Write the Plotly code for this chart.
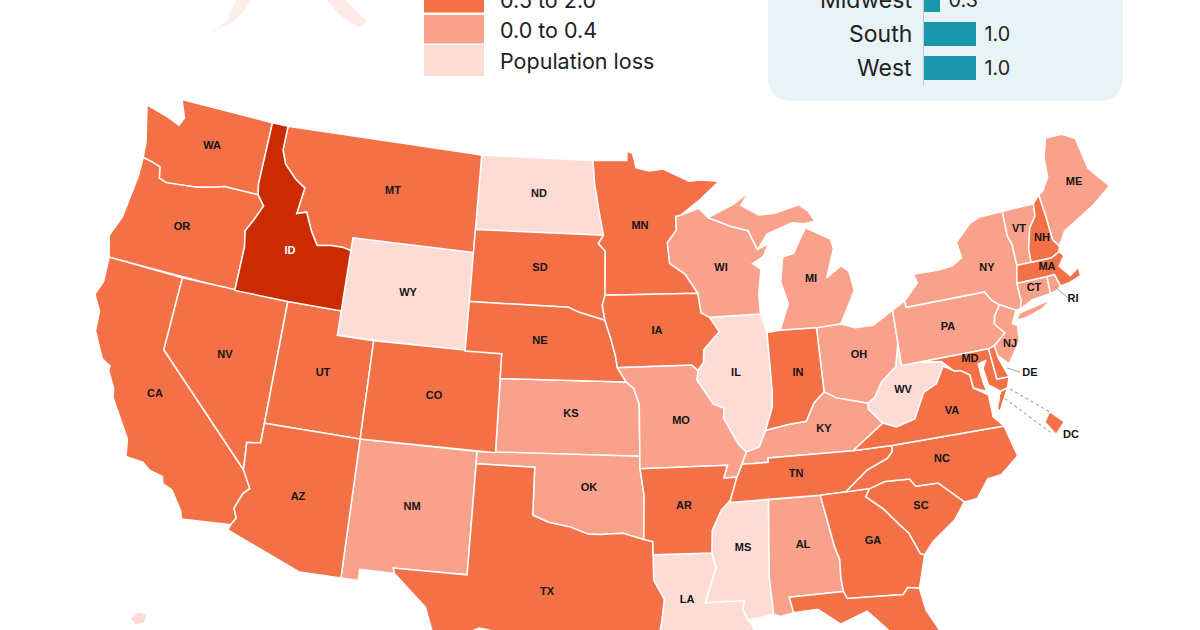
import numpy as np
import plotly.graph_objects as go

# legend bins, lowest first
LOSS_STATES = ["WY", "ND", "LA", "IL", "MS", "WV"]
LOW_STATES = ["NM", "KS", "OK", "MO", "WI", "MI", "OH", "KY", "AL", "PA", "NY", "NJ", "CT", "RI", "VT", "ME"]
MID_STATES = ["WA", "OR", "CA", "NV", "MT", "UT", "CO", "AZ", "SD", "NE", "TX", "MN", "IA", "AR", "IN", "TN", "GA", "FL", "SC", "NC", "VA", "MD", "DE", "MA", "NH"]
HIGH_STATES = ["ID"]

LOSS_COLOR = "#fddcd5"
LOW_COLOR = "#f9a18a"
MID_COLOR = "#f47148"
HIGH_COLOR = "#cc2a00"

LEGEND_LABELS = ["0.5 to 2.0", "0.0 to 0.4", "Population loss"]

REGIONS = ["Midwest", "South", "West"]
REGION_VALUES = [0.3, 1.0, 1.0]

# state outlines, lon/lat
WA = [(-124.7,48.38),(-123.3,48.15),(-122.5,47.95),(-122.3,48.3),(-122.75,49),(-117.03,49),(-117.04,46.42),(-116.92,45.99),(-118.98,46),(-119.3,45.93),(-120.5,45.7),(-121.2,45.65),(-122.3,45.55),(-122.75,45.65),(-122.9,46.1),(-123.4,46.2),(-124,46.27),(-124.1,46.9)]
OR = [(-124,46.27),(-123.4,46.2),(-122.9,46.1),(-122.75,45.65),(-122.3,45.55),(-121.2,45.65),(-120.5,45.7),(-119.3,45.93),(-118.98,46),(-116.92,45.99),(-116.47,45.6),(-116.85,44.95),(-117.2,44.45),(-117.03,43.8),(-117.03,42),(-124.2,42),(-124.55,42.84),(-124.15,43.7),(-124.05,44.7),(-123.95,45.5)]
CA = [(-124.2,42),(-120,42),(-120,39),(-114.63,35),(-114.14,34.3),(-114.43,34.05),(-114.72,33.4),(-114.52,33.03),(-114.72,32.72),(-117.12,32.53),(-117.25,32.85),(-117.9,33.6),(-118.4,33.75),(-118.5,34.03),(-119.2,34.15),(-119.6,34.4),(-120.5,34.45),(-120.65,35.15),(-121.9,36.6),(-122,36.96),(-122.5,37.6),(-122.5,37.8),(-123,38),(-123.75,39),(-123.85,39.8),(-124.35,40.4),(-124.1,41)]
NV = [(-120,42),(-114.04,42),(-114.04,36.2),(-114.74,36.1),(-114.63,35),(-120,39)]
ID = [(-117.03,49),(-116.05,49),(-116.05,48),(-115.72,47.45),(-114.95,46.93),(-114.32,46.65),(-114.5,45.57),(-113.95,45.7),(-113.45,44.95),(-113,44.45),(-112.2,44.55),(-111.5,44.55),(-111.05,44.47),(-111.05,42),(-114.04,42),(-117.03,42),(-117.03,43.8),(-117.2,44.45),(-116.85,44.95),(-116.47,45.6),(-116.92,45.99),(-117.04,46.42)]
MT = [(-116.05,49),(-104.05,49),(-104.05,45),(-111.05,45),(-111.05,44.47),(-111.5,44.55),(-112.2,44.55),(-113,44.45),(-113.45,44.95),(-113.95,45.7),(-114.5,45.57),(-114.32,46.65),(-114.95,46.93),(-115.72,47.45),(-116.05,48)]
WY = [(-111.05,45),(-104.05,45),(-104.05,41),(-111.05,41)]
UT = [(-114.04,42),(-111.05,42),(-111.05,41),(-109.05,41),(-109.05,37),(-114.04,37)]
CO = [(-109.05,41),(-102.05,41),(-102.05,37),(-109.05,37)]
AZ = [(-114.04,37),(-109.05,37),(-109.05,31.33),(-111.07,31.33),(-114.81,32.49),(-114.72,32.72),(-114.52,33.03),(-114.72,33.4),(-114.43,34.05),(-114.14,34.3),(-114.63,35),(-114.74,36.1),(-114.04,36.2)]
NM = [(-109.05,37),(-103,37),(-103.04,32),(-106.62,32),(-106.53,31.78),(-108.21,31.78),(-108.21,31.33),(-109.05,31.33)]
ND = [(-104.05,49),(-97.23,49),(-97.1,48),(-96.85,47),(-96.56,45.94),(-104.05,45.94)]
SD = [(-104.05,45.94),(-96.56,45.94),(-96.85,45.6),(-96.45,45.3),(-96.45,43.5),(-96.6,43.1),(-96.45,42.49),(-97.9,42.8),(-98.5,43),(-104.05,43)]
NE = [(-104.05,43),(-98.5,43),(-97.9,42.8),(-96.45,42.49),(-96.1,41.7),(-95.85,41),(-95.77,40.58),(-95.31,40),(-102.05,40),(-102.05,41),(-104.05,41)]
KS = [(-102.05,40),(-95.31,40),(-94.9,39.75),(-94.61,39.1),(-94.62,37),(-102.05,37)]
OK = [(-103,37),(-94.62,37),(-94.62,36.5),(-94.43,35.4),(-94.48,33.64),(-95.5,33.9),(-96.6,33.85),(-97.2,33.85),(-98.1,34.13),(-99.2,34.3),(-100,34.56),(-100,36.5),(-103,36.5)]
TX = [(-103,36.5),(-100,36.5),(-100,34.56),(-99.2,34.3),(-98.1,34.13),(-97.2,33.85),(-96.6,33.85),(-95.5,33.9),(-94.48,33.64),(-94.04,33.55),(-94.04,33.02),(-94.04,31.99),(-93.55,31.2),(-93.7,30.3),(-93.84,29.7),(-94.7,29.35),(-95.3,28.9),(-96.4,28.35),(-97.2,27.6),(-97.4,26.9),(-97.15,25.96),(-97.6,25.9),(-99.1,26.4),(-99.5,27.5),(-100.3,28.3),(-100.7,29.1),(-101.4,29.77),(-102.3,29.88),(-102.7,29.7),(-103.15,28.97),(-104.5,29.65),(-104.9,30.55),(-106.53,31.78),(-106.62,32),(-103.04,32)]
MN = [(-97.23,49),(-95.15,49),(-95.15,49.38),(-94.8,49.3),(-94.6,48.7),(-93.8,48.55),(-92.95,48.62),(-91.4,48.07),(-90.75,48.1),(-89.6,48),(-90.8,47.3),(-92,46.7),(-92.3,46.66),(-92.3,46.1),(-92.85,45.6),(-92.75,44.75),(-91.9,44.3),(-91.22,43.5),(-96.45,43.5),(-96.45,45.3),(-96.85,45.6),(-96.56,45.94),(-96.85,47),(-97.1,48)]
IA = [(-96.45,43.5),(-91.22,43.5),(-91.1,42.7),(-90.64,42.5),(-90.15,41.9),(-91.05,41.2),(-91.1,40.7),(-91.42,40.38),(-91.73,40.61),(-95.77,40.58),(-95.85,41),(-96.1,41.7),(-96.45,42.49),(-96.6,43.1)]
MO = [(-95.77,40.58),(-91.73,40.61),(-91.42,40.38),(-91.5,40),(-90.7,39),(-90.15,38.8),(-90.2,38.4),(-89.5,37.3),(-89.13,36.98),(-89.4,36.5),(-89.7,36),(-90.37,36),(-90.15,36.5),(-94.62,36.5),(-94.62,37),(-94.61,39.1),(-94.9,39.75),(-95.31,40)]
AR = [(-94.62,36.5),(-90.15,36.5),(-90.37,36),(-89.7,36),(-90.1,35.1),(-90.6,34.7),(-91.1,33.9),(-91.17,33),(-94.04,33.02),(-94.04,33.55),(-94.48,33.64),(-94.43,35.4)]
LA = [(-94.04,33.02),(-91.17,33),(-91,32.4),(-91.6,31),(-89.73,31),(-89.85,30.65),(-89.6,30.2),(-89.4,29.9),(-89.4,29.2),(-90.1,29.15),(-91.3,29.3),(-92.3,29.55),(-93.84,29.7),(-93.7,30.3),(-93.55,31.2),(-94.04,31.99)]
WI = [(-92.3,46.66),(-92,46.7),(-90.9,46.95),(-90.4,46.55),(-89.1,46.13),(-88.1,45.9),(-87.8,45.35),(-87.65,45.1),(-87,45.3),(-87.35,44.8),(-88,44.55),(-87.55,44.3),(-87.8,43.3),(-87.8,42.49),(-90.64,42.5),(-91.1,42.7),(-91.22,43.5),(-91.9,44.3),(-92.75,44.75),(-92.85,45.6),(-92.3,46.1)]
IL = [(-90.64,42.5),(-87.8,42.49),(-87.53,41.72),(-87.53,39.35),(-87.6,38.7),(-88.05,37.8),(-88.45,37.15),(-89.13,36.98),(-89.5,37.3),(-90.2,38.4),(-90.15,38.8),(-90.7,39),(-91.5,40),(-91.42,40.38),(-91.1,40.7),(-91.05,41.2),(-90.15,41.9)]
IN = [(-87.53,41.72),(-86.8,41.76),(-84.8,41.7),(-84.8,39.1),(-85.4,38.7),(-85.9,38),(-86.8,37.95),(-88.05,37.8),(-87.6,38.7),(-87.53,39.35)]
OH = [(-84.8,41.7),(-83.45,41.73),(-82.7,41.5),(-81.7,41.5),(-80.52,41.98),(-80.52,40.64),(-80.85,39.7),(-81.7,39.2),(-82.2,38.6),(-82.6,38.42),(-83.3,38.6),(-84.2,38.8),(-84.8,39.1)]
MI_LOWER = [(-86.8,41.76),(-84.8,41.7),(-83.45,41.73),(-83.15,42.1),(-82.45,43),(-82.6,43.8),(-83,44.07),(-83.9,43.65),(-83.3,44.8),(-83.4,45.2),(-84.75,45.78),(-85.1,45.4),(-85.6,44.8),(-86.25,44.7),(-86.5,43.7),(-86.2,42.8)]
MI_UPPER = [(-90.4,46.55),(-89.1,46.13),(-88.1,45.9),(-87.8,45.35),(-87.65,45.1),(-87,45.7),(-85.5,46.05),(-84.8,45.95),(-84.15,46),(-84.5,46.45),(-85,46.75),(-86.5,46.5),(-87.4,46.5),(-88.4,46.95),(-87.9,47.45),(-88.9,47)]
KY = [(-89.4,36.5),(-88.05,36.5),(-88.05,36.68),(-83.68,36.6),(-81.97,37.54),(-82.6,38.17),(-82.6,38.42),(-83.3,38.6),(-84.2,38.8),(-84.8,39.1),(-85.4,38.7),(-85.9,38),(-86.8,37.95),(-88.05,37.8),(-88.45,37.15),(-89.13,36.98)]
TN = [(-90.1,35),(-90.1,35.1),(-89.7,36),(-89.4,36.5),(-88.05,36.5),(-88.05,36.68),(-83.68,36.6),(-81.68,36.59),(-81.7,36.35),(-82,36.1),(-83.1,35.75),(-84.32,34.99),(-85.6,34.98),(-88.2,35)]
MS = [(-90.1,35),(-88.2,35),(-88.47,31.9),(-88.4,30.35),(-89.6,30.2),(-89.85,30.65),(-89.73,31),(-91.6,31),(-91,32.4),(-91.17,33),(-91.1,33.9),(-90.6,34.7),(-90.1,35.1)]
AL = [(-88.2,35),(-85.6,34.98),(-85.18,32.87),(-85,32.3),(-85.05,31.55),(-85,31),(-87.6,31),(-87.45,30.35),(-88.05,30.25),(-88.4,30.35),(-88.47,31.9)]
GA = [(-85.6,34.98),(-84.32,34.99),(-83.1,35),(-83.35,34.7),(-82.55,34.1),(-81.9,33.4),(-81.5,33),(-81.1,32.1),(-80.9,32.03),(-81.4,30.72),(-81.95,30.82),(-82.2,30.57),(-84.86,30.7),(-85,31),(-85.05,31.55),(-85,32.3),(-85.18,32.87)]
FL = [(-87.6,31),(-85,31),(-84.86,30.7),(-82.2,30.57),(-81.95,30.82),(-81.4,30.72),(-81.25,29.8),(-80.5,28.4),(-80.05,26.9),(-80.15,25.7),(-80.5,25.2),(-81.1,25.15),(-81.8,26.1),(-82.2,26.9),(-82.75,27.8),(-82.65,28.7),(-83.4,29.5),(-84,30.1),(-85.3,29.7),(-86.3,30.4),(-87.45,30.35)]
SC = [(-83.1,35),(-82.3,35.2),(-81.05,35.15),(-80.8,34.82),(-79.67,34.8),(-78.55,33.86),(-79.2,33.2),(-80.4,32.5),(-80.9,32.03),(-81.1,32.1),(-81.5,33),(-81.9,33.4),(-82.55,34.1),(-83.35,34.7)]
NC = [(-84.32,34.99),(-83.1,35),(-82.3,35.2),(-81.05,35.15),(-80.8,34.82),(-79.67,34.8),(-78.55,33.86),(-77.9,33.9),(-77.2,34.6),(-76.5,34.65),(-75.5,35.25),(-75.85,36.55),(-81.68,36.59),(-81.7,36.35),(-82,36.1),(-83.1,35.75)]
VA = [(-83.68,36.6),(-81.68,36.59),(-75.85,36.55),(-76.3,37),(-76.3,37.9),(-77,38.3),(-77.05,38.85),(-77.5,39.1),(-77.83,39.13),(-78.35,39.4),(-78.87,38.75),(-79.6,38.5),(-80.3,37.5),(-81.3,37.3),(-81.97,37.54)]
VA_SHORE = [(-75.65,37.95),(-75.25,38.03),(-75.9,37.15),(-76,37.3)]
WV = [(-82.6,38.17),(-81.97,37.54),(-81.3,37.3),(-80.3,37.5),(-79.6,38.5),(-78.87,38.75),(-78.35,39.4),(-77.83,39.13),(-78.4,39.6),(-79.48,39.72),(-80.52,39.72),(-80.52,40.64),(-80.85,39.7),(-81.7,39.2),(-82.2,38.6),(-82.6,38.42)]
MD = [(-79.48,39.72),(-75.79,39.72),(-75.7,38.46),(-75.05,38.45),(-75.25,38.03),(-75.65,37.95),(-76.2,38.3),(-76.3,39),(-76.05,39.3),(-76.5,39.2),(-76.45,38.5),(-76.35,38.05),(-77,38.3),(-77.05,38.85),(-77.5,39.1),(-77.83,39.13),(-78.4,39.6)]
DE = [(-75.79,39.72),(-75.45,39.8),(-75.4,39.3),(-75.05,38.45),(-75.7,38.46)]
PA = [(-80.52,41.98),(-79.76,42.27),(-79.76,42),(-75.35,42),(-75.05,41.6),(-74.7,41.36),(-75.1,40.95),(-75.2,40.65),(-74.75,40.2),(-75.45,39.8),(-75.79,39.72),(-80.52,39.72)]
NY = [(-79.76,42.27),(-79.76,42),(-75.35,42),(-75.05,41.6),(-74.7,41.36),(-73.9,41),(-73.65,41),(-73.5,41.3),(-73.5,42.05),(-73.27,42.75),(-73.25,43.6),(-73.4,44),(-73.35,45.01),(-74.7,45),(-75.3,44.85),(-76.3,44.2),(-76.2,43.55),(-76.8,43.3),(-77.6,43.25),(-79.05,43.27),(-78.9,42.9)]
NY_ISLAND = [(-74,40.6),(-73.75,40.85),(-72.6,41),(-71.9,41.07),(-72.5,40.8),(-73.5,40.6)]
NJ = [(-74.7,41.36),(-73.9,41),(-74.25,40.5),(-74,40.4),(-74.1,39.75),(-74.9,38.95),(-75.55,39.5),(-75.45,39.8),(-74.75,40.2),(-75.2,40.65),(-75.1,40.95)]
CT = [(-73.5,42.05),(-71.8,42.02),(-71.85,41.32),(-72.9,41.25),(-73.65,41),(-73.5,41.3)]
RI = [(-71.8,42.02),(-71.38,42.02),(-71.2,41.5),(-71.5,41.37),(-71.85,41.32)]
MA = [(-73.5,42.05),(-73.27,42.75),(-72.46,42.73),(-71.3,42.7),(-70.8,42.87),(-70.6,42.65),(-71,42.3),(-70.55,41.8),(-70,42.05),(-70,41.7),(-70.65,41.55),(-71.2,41.5),(-71.38,42.02),(-71.8,42.02)]
VT = [(-73.35,45.01),(-71.5,45.01),(-71.6,44.5),(-72.05,44.1),(-72.4,43.3),(-72.46,42.73),(-73.27,42.75),(-73.25,43.6),(-73.4,44)]
NH = [(-71.5,45.01),(-71.08,45.3),(-71,44.3),(-70.98,43.4),(-70.7,43.07),(-70.8,42.87),(-71.3,42.7),(-72.46,42.73),(-72.4,43.3),(-72.05,44.1),(-71.6,44.5)]
ME = [(-71.08,45.3),(-70.8,45.4),(-70.3,45.9),(-70.2,46.7),(-69.8,47.46),(-68.8,47.42),(-68.1,47.1),(-67.9,45.8),(-67.45,45.3),(-67,44.85),(-68.2,44.3),(-69.1,44),(-70.2,43.6),(-70.7,43.07),(-70.98,43.4),(-71,44.3)]

# labels
LABEL_TEXT = ["WA","OR","CA","NV","ID","MT","WY","UT","CO","AZ","NM","ND","SD","NE","KS","OK","TX","MN","IA","MO","AR","LA","WI","IL","IN","MI","OH","KY","TN","MS","AL","GA","SC","NC","VA","WV","PA","NY","NJ","MD","CT","MA","VT","NH","ME","RI","DE","DC"]
LABEL_X = [212,182,155,225,290,393,408,323,434,298,412,539,540,540,571,589,547,640,657,681,684,687,721,736,798,811,859,824,796,743,803,873,921,942,952,903,948,987,1010,970,1034,1047,1019,1042,1074,1073,1030,1071]
LABEL_Y = [146,227,394,355,251,191,293,373,396,497,507,194,268,341,414,488,592,226,331,421,506,600,268,373,373,279,355,429,474,548,545,541,506,459,411,390,327,268,344,359,288,267,229,238,182,299,373,435]

# insets that do not follow the projection
DC_INSET_X = [1050,1063,1056,1046]
DC_INSET_Y = [413,422,433,422]
RI_LEADER_X = [1055,1068]
RI_LEADER_Y = [287,298]
DE_LEADER_X = [1007,1020]
DE_LEADER_Y = [368,372]
DC_LEADER_X = [1010,1050,None,1000,1050]
DC_LEADER_Y = [389,412,None,395,432]
AK_BODY_X = [236,250,243,232,212,228]
AK_BODY_Y = [0,0,12,22,32,20]
AK_TAIL_X = [327,345,367,358,340]
AK_TAIL_Y = [0,0,22,27,15]
HI_X = [131,138,146,144,136]
HI_Y = [619,613,615,622,624]

fills = {}
for codes, color in [(LOSS_STATES, LOSS_COLOR), (LOW_STATES, LOW_COLOR), (MID_STATES, MID_COLOR), (HIGH_STATES, HIGH_COLOR)]:
    for code in codes:
        fills[code] = color
parts = {"MI": [MI_LOWER, MI_UPPER], "VA": [VA, VA_SHORE], "NY": [NY, NY_ISLAND]}

# albers conic, same parallels as the usual US map
n = (np.sin(np.radians(29.5)) + np.sin(np.radians(45.5))) / 2
c = np.cos(np.radians(29.5)) ** 2 + 2 * n * np.sin(np.radians(29.5))
rho0 = np.sqrt(c - 2 * n * np.sin(np.radians(40))) / n
SCALE = 1408
X0, Y0 = 613, 382

def project(ring):
    lon = np.array([p[0] for p in ring] + [ring[0][0]])
    lat = np.array([p[1] for p in ring] + [ring[0][1]])
    rho = np.sqrt(c - 2 * n * np.sin(np.radians(lat))) / n
    theta = n * np.radians(lon + 96)
    return X0 + SCALE * rho * np.sin(theta), Y0 - SCALE * (rho0 - rho * np.cos(theta))

fig = go.Figure()

for code, color in fills.items():
    xs, ys = [], []
    rings = parts[code] if code in parts else [globals()[code]]
    for ring in rings:
        x, y = project(ring)
        xs += list(x) + [None]
        ys += list(y) + [None]
    fig.add_trace(go.Scatter(x=xs, y=ys, mode="lines", fill="toself", fillcolor=color, line=dict(color="white", width=1.5), hoverinfo="skip"))

for ax, ay, col in [(AK_BODY_X, AK_BODY_Y, "#fdeee9"), (AK_TAIL_X, AK_TAIL_Y, "#fdeae5"), (HI_X, HI_Y, LOSS_COLOR), (DC_INSET_X, DC_INSET_Y, MID_COLOR)]:
    fig.add_trace(go.Scatter(x=ax + ax[:1], y=ay + ay[:1], mode="lines", fill="toself", fillcolor=col, line=dict(color=col, width=0.5), hoverinfo="skip"))

fig.add_trace(go.Scatter(x=RI_LEADER_X, y=RI_LEADER_Y, mode="lines", line=dict(color="#8a8a8a", width=0.8), hoverinfo="skip"))
fig.add_trace(go.Scatter(x=DE_LEADER_X, y=DE_LEADER_Y, mode="lines", line=dict(color="#8a8a8a", width=0.8), hoverinfo="skip"))
fig.add_trace(go.Scatter(x=DC_LEADER_X, y=DC_LEADER_Y, mode="lines", line=dict(color="#666666", width=0.8, dash="dot"), hoverinfo="skip"))

label_colors = ["white" if t == "ID" else "#151515" for t in LABEL_TEXT]
fig.add_trace(go.Scatter(x=LABEL_X, y=LABEL_Y, mode="text", text=LABEL_TEXT, textposition="middle center",
                         textfont=dict(family="Liberation Sans", size=11, color=label_colors, weight="bold"), hoverinfo="skip"))

fig.add_trace(go.Bar(x=REGION_VALUES, y=[0, 1, 2], orientation="h", width=0.71, marker=dict(color="#1a97ad", line_width=0),
                     text=[f"\u00a0{v:.1f}" for v in REGION_VALUES], textposition="outside", cliponaxis=False,
                     textfont=dict(family="Inter", size=23, color="#222222"), xaxis="x2", yaxis="y2", hoverinfo="skip"))

fig.update_layout(
    width=1200, height=630, margin=dict(l=0, r=0, t=0, b=0), paper_bgcolor="white", plot_bgcolor="rgba(0,0,0,0)",
    showlegend=False, bargap=0,
    xaxis=dict(range=[0, 1200], visible=False, domain=[0, 1]),
    yaxis=dict(range=[630, 0], visible=False, domain=[0, 1]),
    xaxis2=dict(domain=[924 / 1200, 1123 / 1200], range=[0, 199 / 52], visible=False, anchor="y2"),
    yaxis2=dict(domain=[(630 - 85) / 630, 1], range=[2.494, -0.006], anchor="x2", showticklabels=False,
                showgrid=False, zeroline=False, showline=True, linecolor="#b9c9cf", linewidth=1, ticks=""),
)

# rounded panel behind the region bars
fig.add_shape(type="path", xref="x", yref="y", layer="below", line_width=0, fillcolor="#e8f3f6",
              path="M 768 -30 L 1123 -30 L 1123 76 Q 1123 101 1098 101 L 793 101 Q 768 101 768 76 Z")

# region names, as annotations since the top one sits on the page edge
for region, ty in zip(REGIONS, [0.2, 34.2, 68.2]):
    fig.add_annotation(x=914, y=ty, xref="x", yref="y", text=region, showarrow=False, xanchor="right", yanchor="middle",
                       font=dict(family="Inter", size=23, color="#222222"))

# legend swatches
for top, bottom, col in [(-20, 12.5, MID_COLOR), (15, 43.5, LOW_COLOR), (45, 76, LOSS_COLOR)]:
    fig.add_shape(type="rect", xref="x", yref="y", layer="below", x0=424, x1=484, y0=top, y1=bottom, fillcolor=col, line_width=0)
for label, ty in zip(LEGEND_LABELS, [0, 30, 61]):
    fig.add_annotation(x=498, y=ty, xref="x", yref="y", text=label, showarrow=False, xanchor="left", yanchor="middle",
                       font=dict(family="Inter", size=21.5, color="#222222"))

fig.write_html("out.html", config={"displayModeBar": False}, post_script="document.body.style.margin = '0';")
